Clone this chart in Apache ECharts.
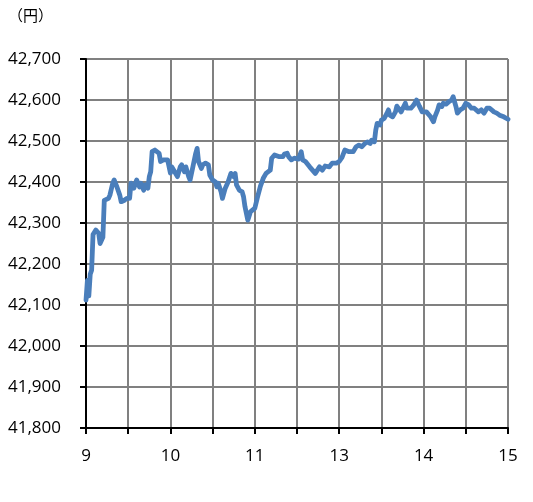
<!DOCTYPE html>
<html>
<head>
<meta charset="utf-8">
<script src="https://cdn.jsdelivr.net/npm/echarts@6/dist/echarts.min.js"></script>
<style>
html,body{margin:0;padding:0;background:#fff;}
#c{width:533px;height:502px;}
</style>
</head>
<body>
<div id="c"></div>
<script>
// minutes of trading since 9:00 (lunch break removed: 11:30 -> 12:30)
const minutes = [0,1,2,3,4,5,7,9,10,12,13,16,17,19,20,22,24,25,27,29,31,32,34,35,36,38,39,41,42,44,45,46,47,49,52,53,55,58,
59,60,61,63,65,67,68,70,71,73,74,76,78,79,80,82,83,85,87,88,90,92,93,94,96,97,99,101,103,105,106,107,109,111,112,113,115,116,117,118,120,122,124,126,128,129,131,132,134,137,138,140,141,143,144,146,148,151,153,154,156,157,159,161,163,164,166,168,170,171,173,175,178,180,182,184,185,187,188,190,192,194,196,198,200,202,203,205,206,207,209,210,212,214,215,216,218,220,221,223,224,227,228,229,231,233,235,237,239,240,242,243,245,247,248,250,251,253,254,256,258,260,261,263,264,266,268,270,272,274,276,277,279,281,283,285,287,288,290,292,294,295,297,299,300];
const prices = [42112,42160,42122,42175,42185,42272,42283,42275,42250,42265,42355,42360,42368,42397,42405,42388,42368,42352,42355,42360,42360,42397,42385,42388,42405,42388,42397,42380,42393,42385,42413,42425,42474,42478,42470,42450,42454,42454,
42450,42422,42437,42425,42413,42437,42442,42425,42437,42413,42405,42437,42470,42482,42450,42433,42442,42446,42442,42417,42405,42400,42388,42397,42376,42360,42385,42400,42421,42413,42421,42393,42380,42376,42364,42340,42307,42303,42328,42328,42336,42364,42390,42409,42421,42417,42429,42458,42466,42462,42466,42462,42468,42470,42462,42454,42458,42456,42474,42454,42450,42446,42437,42429,42421,42425,42437,42429,42439,42442,42437,42446,42446,42450,42460,42478,42482,42474,42470,42474,42486,42490,42486,42493,42498,42494,42502,42498,42527,42543,42539,42551,42555,42568,42576,42563,42559,42571,42585,42576,42571,42592,42580,42576,42580,42588,42600,42585,42571,42568,42571,42568,42559,42547,42559,42576,42588,42584,42592,42590,42596,42600,42608,42584,42568,42576,42580,42592,42588,42580,42580,42576,42571,42576,42568,42580,42580,42576,42571,42568,42563,42563,42559,42555,42553];
// x tick labels, one per 30-minute tick
const xTickLabels = ['9','','10','','11','','13','','14','','15'];
const yMin = 41800, yMax = 42700, yStep = 100;
const unitLabel = '（円）';

const chart = echarts.init(document.getElementById('c'), null, {renderer:'canvas'});
const fontFam = '"Open Sans", "Noto Sans CJK JP", sans-serif';
chart.setOption({
  animation:false,
  backgroundColor:'#fff',
  grid:{left:86, right:25, top:59, bottom:74, containLabel:false},
  graphic:[{type:'text', left:8, top:9, style:{text:unitLabel, fontSize:15, fill:'#000', fontFamily:fontFam}}],
  xAxis:{
    type:'value', min:0, max:300, interval:30,
    axisLine:{lineStyle:{color:'#000', width:2}},
    axisTick:{show:true, length:6, lineStyle:{color:'#000', width:2}},
    axisLabel:{color:'#000', fontSize:17, fontFamily:fontFam, margin:20,
      formatter:function(v){ return xTickLabels[Math.round(v/30)] || ''; }},
    splitLine:{show:true, lineStyle:{color:'#808080', width:2}}
  },
  yAxis:{
    type:'value', min:yMin, max:yMax, interval:yStep,
    axisLine:{show:true, lineStyle:{color:'#000', width:2}},
    axisTick:{show:true, length:6, lineStyle:{color:'#000', width:2}},
    axisLabel:{color:'#000', fontSize:17, fontFamily:fontFam, margin:25,
      formatter:function(v){ return String(v).replace(/\B(?=(\d{3})+(?!\d))/g, ','); }},
    splitLine:{show:true, lineStyle:{color:'#808080', width:2}}
  },
  series:[{
    type:'line',
    data: minutes.map((m,i)=>[m, prices[i]]),
    showSymbol:false,
    lineStyle:{color:'#4a7ebb', width:4.8, join:'round', cap:'round'},
    itemStyle:{color:'#4a7ebb'}
  }]
});
</script>
</body>
</html>
